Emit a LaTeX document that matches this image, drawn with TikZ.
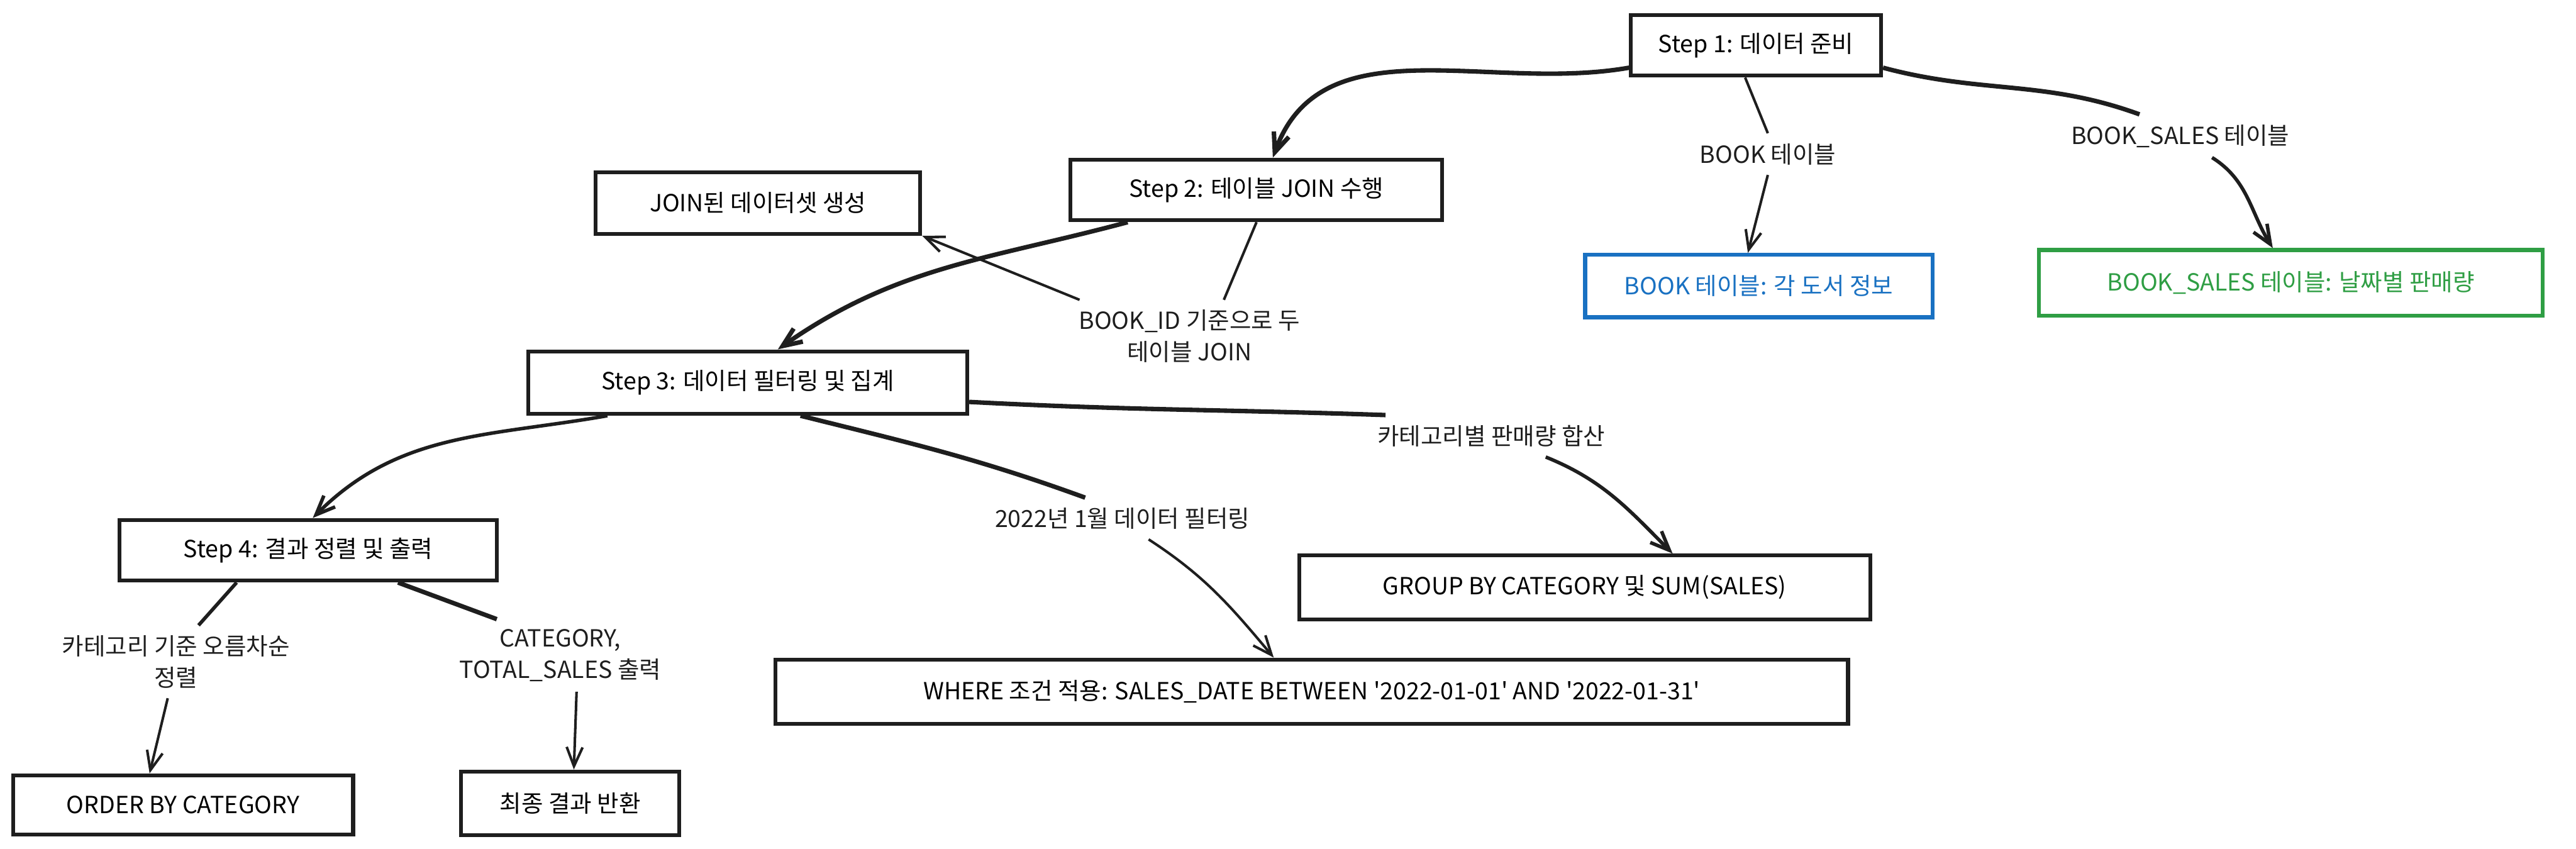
\documentclass[tikz,border=0pt]{standalone}
\usepackage{fontspec}
\setmainfont{Noto Sans CJK KR}
\usetikzlibrary{arrows.meta, calc}
\definecolor{inkblack}{HTML}{1E1E1E}
\definecolor{inkblue}{HTML}{1971C2}
\definecolor{inkgreen}{HTML}{2F9E44}

\begin{document}
\begin{tikzpicture}[
    font=\fontsize{7.4}{9.8}\selectfont,
    stepbox/.style={draw=inkblack, line width=1.2pt, fill=white, inner sep=2pt},
    edgetext/.style={align=center, text=inkblack, inner sep=3pt},
    flow/.style={draw=inkblack, line width=1.4pt},
    thinflow/.style={draw=inkblack, line width=0.8pt},
    barb/.style={-{Straight Barb[length=6pt,width=5pt]}},
]
    \useasboundingbox (0,0) rectangle (28.415,-9.365);

    % boxes
    \node[stepbox, minimum width=2.76cm, minimum height=0.67cm] (step1) at (19.37,-0.50) {Step 1: 데이터 준비};
    \node[stepbox, minimum width=4.10cm, minimum height=0.67cm] (step2) at (13.86,-2.095) {Step 2: 테이블 JOIN 수행};
    \node[stepbox, minimum width=3.58cm, minimum height=0.68cm] (joined) at (8.36,-2.24) {JOIN된 데이터셋 생성};
    \node[stepbox, draw=inkblue, text=inkblue, minimum width=3.83cm, minimum height=0.69cm] (book) at (19.40,-3.155) {BOOK 테이블: 각 도서 정보};
    \node[stepbox, draw=inkgreen, text=inkgreen, minimum width=5.56cm, minimum height=0.725cm] (sales) at (25.27,-3.12) {BOOK\_SALES 테이블: 날짜별 판매량};
    \node[stepbox, minimum width=4.84cm, minimum height=0.69cm] (step3) at (8.25,-4.22) {Step 3: 데이터 필터링 및 집계};
    \node[stepbox, minimum width=4.16cm, minimum height=0.67cm] (step4) at (3.40,-6.07) {Step 4: 결과 정렬 및 출력};
    \node[stepbox, minimum width=6.30cm, minimum height=0.705cm] (groupby) at (17.48,-6.48) {GROUP BY CATEGORY 및 SUM(SALES)};
    \node[stepbox, minimum width=11.83cm, minimum height=0.71cm] (where) at (14.47,-7.63) {WHERE 조건 적용: SALES\_DATE BETWEEN \textquotesingle2022-01-01\textquotesingle{} AND \textquotesingle2022-01-31\textquotesingle};
    \node[stepbox, minimum width=3.75cm, minimum height=0.655cm] (orderby) at (2.02,-8.88) {ORDER BY CATEGORY};
    \node[stepbox, minimum width=2.41cm, minimum height=0.70cm] (final) at (6.29,-8.86) {최종 결과 반환};

    % labels on the links
    \node[edgetext] (lbook) at (19.50,-1.70) {BOOK 테이블};
    \node[edgetext] (lsales) at (24.05,-1.50) {BOOK\_SALES 테이블};
    \node[edgetext] (ljoin) at (13.12,-3.71) {BOOK\_ID 기준으로 두\\테이블 JOIN};
    \node[edgetext] (lsum) at (16.45,-4.81) {카테고리별 판매량 합산};
    \node[edgetext] (lfilter) at (12.38,-5.72) {2022년 1월 데이터 필터링};
    \node[edgetext] (lsort) at (1.94,-7.30) {카테고리 기준 오름차순\\정렬};
    \node[edgetext] (lout) at (6.18,-7.23) {CATEGORY,\\TOTAL\_SALES 출력};

    % step 1
    \draw[flow, barb] (step1.190) to[out=190, in=70] ($(step2.north)+(0.18,0)$);
    \draw[thinflow] ($(step1.south)+(-0.12,0)$) -- (lbook.north);
    \draw[thinflow, barb] (lbook.south) -- ($(book.north)+(-0.12,0)$);
    \draw[flow] (step1.-10) to[out=-15, in=160] ($(lsales.north)+(-0.45,0)$);
    \draw[flow, line width=1.1pt, barb] ($(lsales.south)+(0.35,0)$) to[out=-32, in=122] ($(sales.north)+(-0.2,0)$);

    % step 2
    \draw[flow, barb] ($(step2.south west)+(0.65,0)$) to[out=195, in=35] ($(step3.north)+(0.33,0)$);
    \draw[thinflow] (step2.south) -- ($(ljoin.north)+(0.38,0)$);
    \draw[thinflow, barb] ($(ljoin.north west)+(0.12,0)$) -- (joined.south east);

    % step 3
    \draw[flow, line width=1.1pt, barb] ($(step3.south)+(-1.55,0)$) to[out=190, in=45] ($(step4.north)+(0.05,0)$);
    \draw[flow] ($(step3.south)+(0.58,0)$) to[out=-14, in=160] ($(lfilter.north)+(-0.41,0)$);
    \draw[thinflow, barb] ($(lfilter.south)+(0.29,0)$) to[out=-33, in=130] ($(where.north)+(-0.42,0)$);
    \draw[flow] (step3.-5) to[out=-3, in=178] ($(lsum.north west)+(0.2,0)$);
    \draw[flow, line width=1.1pt, barb] ($(lsum.south)+(0.6,0)$) to[out=-22, in=135] ($(groupby.north)+(0.97,0)$);

    % step 4
    \draw[flow, line width=1.1pt] ($(step4.south)+(-0.79,0)$) -- ($(lsort.north)+(0.25,0)$);
    \draw[thinflow, barb] ($(lsort.south)+(-0.09,0)$) -- ($(orderby.north)+(-0.37,0)$);
    \draw[flow] ($(step4.south)+(0.99,0)$) -- ($(lout.north)+(-0.7,0)$);
    \draw[thinflow, barb] ($(lout.south)+(0.18,0)$) -- ($(final.north)+(0.04,0)$);
\end{tikzpicture}
\end{document}
